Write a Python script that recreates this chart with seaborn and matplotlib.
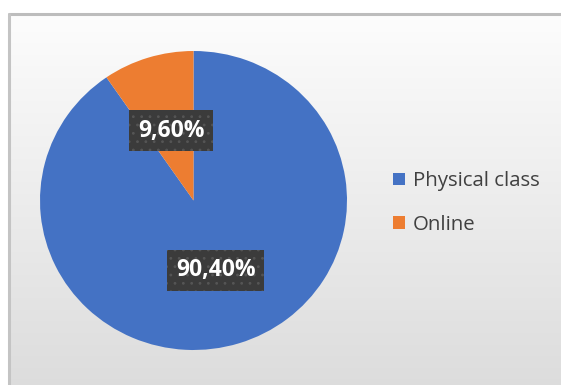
import numpy as np
import matplotlib
matplotlib.use("Agg")
import matplotlib.pyplot as plt
from matplotlib.patches import Patch
import seaborn as sns

categories = ["Physical class", "Online"]
values = [90.4, 9.6]
colors = ["#4472C4", "#ED7D31"]

sns.set_style("white")
plt.rcParams['font.family'] = ['Open Sans', 'DejaVu Sans']
plt.rcParams['hatch.linewidth'] = 0.8

W, H = 561, 385
fig = plt.figure(figsize=(W / 100, H / 100), dpi=100)
fig.patch.set_facecolor("white")

# chart area background with gradient
bx0, by_top = 9, 14
bg = fig.add_axes([bx0 / W, 0, 1 - bx0 / W, (H - by_top) / H])
grad = np.linspace(0.99, 0.865, 256).reshape(-1, 1)
bg.imshow(np.dstack([grad, grad, grad]), aspect="auto", extent=[0, 1, 0, 1],
          interpolation="bilinear")
bg.set_xlim(0, 1)
bg.set_ylim(0, 1)
bg.axis("off")
fig.add_artist(plt.Line2D([bx0 / W, 1], [(H - by_top) / H] * 2, color="#bdbdbd",
                          lw=2.2, transform=fig.transFigure))
fig.add_artist(plt.Line2D([bx0 / W] * 2, [0, (H - by_top) / H], color="#c4c4c4",
                          lw=2.2, transform=fig.transFigure))

# pie
px0, px1, py0, py1 = 40, 347, 51, 350
ax = fig.add_axes([px0 / W, (H - py1) / H, (px1 - px0) / W, (py1 - py0) / H])
wedges, texts, autotexts = ax.pie(
    values, colors=colors, startangle=90, counterclock=False,
    autopct=lambda p: f"{p:.2f}%".replace(".", ","), pctdistance=0.49,
    wedgeprops=dict(linewidth=0),
    textprops=dict(color="white", fontsize=16.5, fontweight="bold"))
for t in autotexts:
    t.set_bbox(dict(boxstyle="square,pad=0.38", facecolor="#3b3b3b",
                    edgecolor="#555555", linewidth=0, hatch=".."))
ax.set_aspect("auto")
ax.set_xlim(-1, 1)
ax.set_ylim(-1, 1)
ax.axis("off")

# legend
handles = [Patch(facecolor=c, edgecolor="none") for c in colors]
fig.legend(handles, categories, loc="center left",
           bbox_to_anchor=(375 / W, 1 - 203 / H), frameon=False,
           fontsize=14.7, labelcolor="#404040", handlelength=0.55,
           handleheight=0.55, handletextpad=0.4, labelspacing=1.15)

fig.savefig("out.png", dpi=100)
